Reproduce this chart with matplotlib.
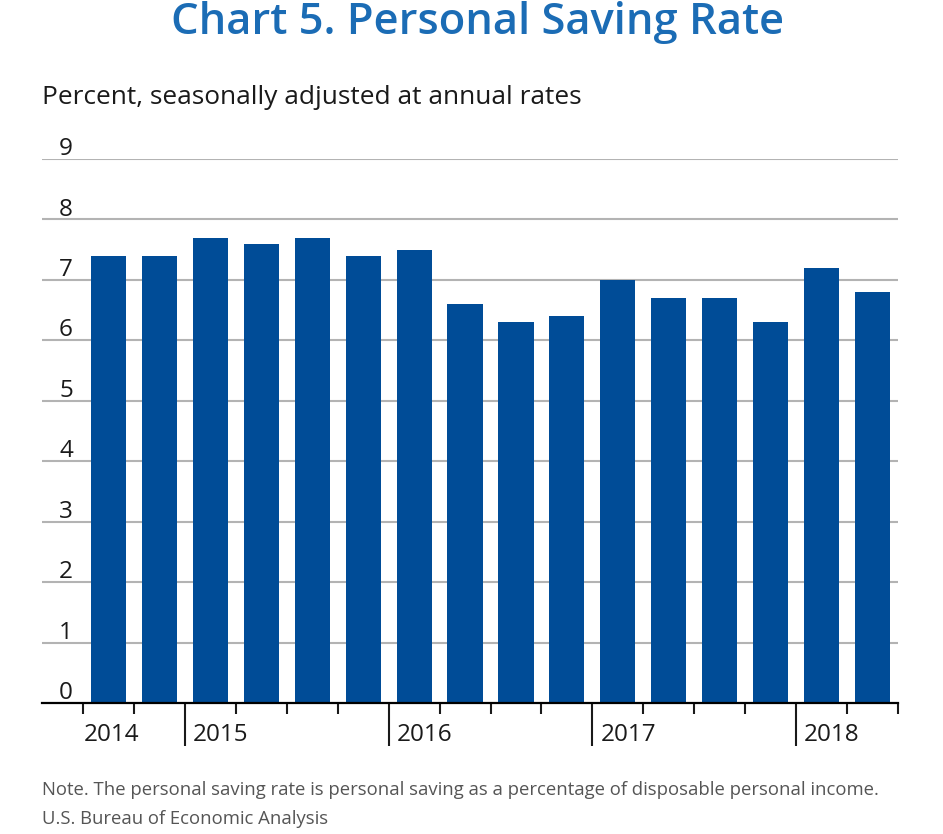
import matplotlib
matplotlib.use("Agg")
import matplotlib.pyplot as plt
import matplotlib.transforms as mtransforms

plt.rcParams['font.family'] = ['Open Sans', 'DejaVu Sans']

quarters = ["2014Q3", "2014Q4", "2015Q1", "2015Q2", "2015Q3", "2015Q4",
            "2016Q1", "2016Q2", "2016Q3", "2016Q4", "2017Q1", "2017Q2",
            "2017Q3", "2017Q4", "2018Q1", "2018Q2"]
saving_rate = [7.4, 7.4, 7.7, 7.6, 7.7, 7.4, 7.5, 6.6, 6.3, 6.4, 7.0, 6.7,
               6.7, 6.3, 7.2, 6.8]
year_labels = ["2014", "2015", "2016", "2017", "2018"]
year_start_index = [0, 2, 6, 10, 14]
y_ticks = [0, 1, 2, 3, 4, 5, 6, 7, 8, 9]

title = "Chart 5. Personal Saving Rate"
subtitle = "Percent, seasonally adjusted at annual rates"
note = "Note. The personal saving rate is personal saving as a percentage of disposable personal income."
source = "U.S. Bureau of Economic Analysis"

bar_color = "#004c97"
title_color = "#1b6cb5"

fig = plt.figure(figsize=(9.43, 8.34), dpi=100)
ax = fig.add_axes([42/943, 131/834, 856/943, 544/834])

x = list(range(len(saving_rate)))
ax.bar(x, saving_rate, width=0.69, color=bar_color, zorder=3)

ax.set_ylim(0, 9)
ax.set_xlim(-1.305, 15.5)

for v in y_ticks[1:]:
    ax.axhline(v, color="#b3b3b3", lw=1.5, zorder=1)

for s in ["top", "right", "left"]:
    ax.spines[s].set_visible(False)
ax.spines["bottom"].set_linewidth(1.6)
ax.spines["bottom"].set_zorder(4)

ax.set_yticks([])
ytr = mtransforms.blended_transform_factory(ax.transAxes, ax.transData)
ylab_tr = ytr + mtransforms.ScaledTranslation(0, -1.5/72, fig.dpi_scale_trans)
for v in y_ticks:
    ax.text(24/856, v, str(v), transform=ylab_tr, ha="center", va="bottom",
            fontsize=17.5, color="#1a1a1a")

boundaries = [i - 0.5 for i in range(len(saving_rate) + 1)]
year_bounds = [year_start_index[k] - 0.5 for k in range(1, len(year_start_index))]
minor = [b for b in boundaries if b not in year_bounds]
ax.set_xticks(year_bounds)
ax.set_xticks(minor, minor=True)
ax.set_xticklabels([])
ax.tick_params(axis="x", which="major", length=31, width=1.5, color="#1a1a1a")
ax.tick_params(axis="x", which="minor", length=8, width=1.5, color="#1a1a1a")

xtr = mtransforms.blended_transform_factory(ax.transData, ax.transAxes)
offs = [1, 8, 8, 8, 8]
for lab, idx, o in zip(year_labels, year_start_index, offs):
    t = ax.text(idx - 0.5, -32/544, lab, transform=xtr, ha="left", va="center",
                fontsize=17.5, color="#1a1a1a")
    t.set_transform(xtr + mtransforms.ScaledTranslation(o/100, 0, fig.dpi_scale_trans))

fig.text(478/943, 1 - 22/834, title, ha="center", va="center", fontsize=31.3,
         fontweight="semibold", color=title_color)
fig.text(42/943, 1 - 97/834, subtitle, ha="left", va="center", fontsize=18.9,
         color="#1a1a1a")
fig.text(42/943, 1 - 790/834, note, ha="left", va="center", fontsize=13.3,
         color="#555555")
fig.text(42/943, 1 - 819/834, source, ha="left", va="center", fontsize=13.3,
         color="#555555")

fig.savefig("out.png", dpi=100)
